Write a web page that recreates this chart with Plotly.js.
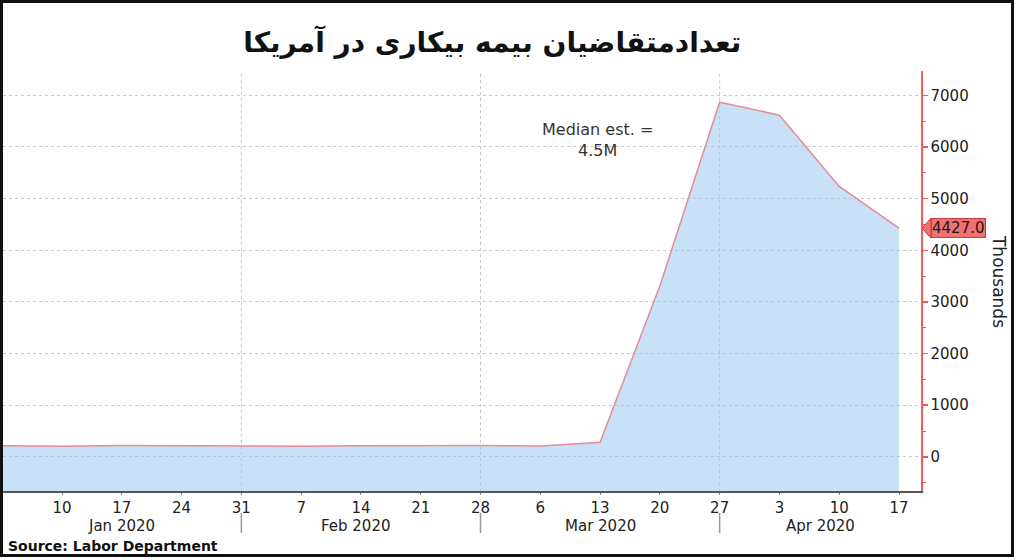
<!DOCTYPE html>
<html>
<head>
<meta charset="utf-8">
<script src="https://cdn.plot.ly/plotly-3.0.1.min.js"></script>
<style>
  html, body { margin: 0; padding: 0; background: #fff; }
  #wrap { position: relative; width: 1017px; height: 560px; }
  #chart { width: 1017px; height: 560px; }
  #frame { position: absolute; left: 0; top: 0; width: 1014px; height: 557px; box-sizing: border-box; border: 3px solid #111; pointer-events: none; }
</style>
</head>
<body>
<div id="wrap"><div id="chart"></div><div id="frame"></div></div>
<script>
// ---- data ----
const weekDates = ['2020-01-03','2020-01-10','2020-01-17','2020-01-24','2020-01-31',
                   '2020-02-07','2020-02-14','2020-02-21','2020-02-28',
                   '2020-03-06','2020-03-13','2020-03-20','2020-03-27',
                   '2020-04-03','2020-04-10','2020-04-17'];
const claims = [214, 207, 222, 216, 203, 205, 214, 219, 219, 211, 282, 3307, 6867, 6615, 5237, 4427];

const xTickVals = ['2020-01-10','2020-01-17','2020-01-24','2020-01-31','2020-02-07','2020-02-14',
                   '2020-02-21','2020-02-28','2020-03-06','2020-03-13','2020-03-20','2020-03-27',
                   '2020-04-03','2020-04-10','2020-04-17'];
const xTickText = ['10','17','24','31','7','14','21','28','6','13','20','27','3','10','17'];

const monthLabels = ['Jan 2020','Feb 2020','Mar 2020','Apr 2020'];
const monthCenters = ['2020-01-16 22:00','2020-02-13 10:00','2020-03-13 00:00','2020-04-07 20:00'];
const monthBoundaries = ['2020-01-31','2020-02-28','2020-03-27'];

const yTickVals = [0, 1000, 2000, 3000, 4000, 5000, 6000, 7000];
const lastValue = 4427.0;
const lastLabel = '4427.0';
const titleText = 'تعدادمتقاضیان بیمه بیکاری در آمریکا';
const medianText = 'Median est. =<br>4.5M';
const sourceText = 'Source: Labor Department';
const unitText = 'Thousands';

// ---- styling ----
const Y_RANGE = [-660, 7470];
const X_RANGE = ['2020-01-03 02:10', '2020-04-19 13:50'];
const FONT = 'DejaVu Sans, Verdana, sans-serif';
const RED = '#ef5c5c';
const TAG = '#f27070';

const baseline = {
  x: weekDates, y: weekDates.map(() => Y_RANGE[0]),
  type: 'scatter', mode: 'lines', line: {width: 0, color: 'rgba(0,0,0,0)'},
  hoverinfo: 'skip', showlegend: false
};
const series = {
  x: weekDates, y: claims,
  type: 'scatter', mode: 'lines', fill: 'tonexty',
  fillcolor: 'rgba(150,198,238,0.52)',
  line: {color: '#e58c98', width: 1.5},
  showlegend: false
};

const shapes = [];
monthBoundaries.forEach(d => {
  shapes.push({type: 'line', xref: 'x', yref: 'paper', x0: d, x1: d, y0: 0, y1: 1,
               layer: 'below', line: {color: '#c8c8c8', width: 1, dash: 'dot'}});
  shapes.push({type: 'line', xref: 'x', yref: 'paper', x0: d, x1: d, y0: -0.052, y1: -0.1,
               line: {color: '#9a9a9a', width: 1.5}});
});
shapes.push({type: 'path', xref: 'paper', xsizemode: 'pixel', xanchor: 1,
             yref: 'y', ysizemode: 'pixel', yanchor: lastValue,
             path: 'M 1 0 L 10 10 L 10 -10 Z', fillcolor: TAG, line: {color: '#c53d3d', width: 1}});

const annotations = [];
monthLabels.forEach((m, i) => {
  annotations.push({text: m, xref: 'x', yref: 'paper', x: monthCenters[i], y: -0.084,
                    xanchor: 'center', yanchor: 'middle', showarrow: false,
                    font: {family: FONT, size: 15, color: '#222'}});
});
annotations.push({text: lastLabel, xref: 'paper', yref: 'y', x: 1, y: lastValue, xshift: 10,
                  xanchor: 'left', yanchor: 'middle', showarrow: false,
                  bgcolor: TAG, bordercolor: '#c53d3d', borderwidth: 1, borderpad: 0,
                  font: {family: FONT, size: 15, color: '#1a1a1a'}});
annotations.push({text: unitText, xref: 'paper', yref: 'paper', x: 1.085, y: 0.5,
                  textangle: 90, xanchor: 'center', yanchor: 'middle', showarrow: false,
                  font: {family: FONT, size: 17, color: '#222'}});
annotations.push({text: medianText, xref: 'x', yref: 'y', x: '2020-03-12 18:00', y: 6136,
                  xanchor: 'center', yanchor: 'middle', showarrow: false,
                  font: {family: FONT, size: 16, color: '#333'}});
annotations.push({text: '<b>' + sourceText + '</b>', xref: 'paper', yref: 'paper', x: 0.003, y: -0.131,
                  xanchor: 'left', yanchor: 'middle', showarrow: false,
                  font: {family: FONT, size: 14, color: '#111'}});

const layout = {
  width: 1017, height: 560,
  margin: {l: 3, r: 96, t: 71, b: 69},
  paper_bgcolor: '#fff', plot_bgcolor: '#fff',
  title: {text: '<b>' + titleText + '</b>', xref: 'container', x: 0.484, xanchor: 'center',
          yref: 'container', y: 0.925, yanchor: 'middle',
          font: {family: FONT, size: 28, color: '#111'}},
  xaxis: {type: 'date', range: X_RANGE, tickmode: 'array', tickvals: xTickVals, ticktext: xTickText,
          showgrid: false, zeroline: false, showline: true, linecolor: '#555', linewidth: 2,
          ticks: 'outside', ticklen: 2, tickcolor: '#888', tickwidth: 1,
          tickfont: {family: FONT, size: 15, color: '#222'}, fixedrange: true},
  yaxis: {side: 'right', range: Y_RANGE, tickmode: 'array', tickvals: yTickVals,
          showgrid: true, gridcolor: '#c8c8c8', griddash: 'dot', gridwidth: 1,
          zeroline: false, showline: true, linecolor: RED, linewidth: 1.5,
          ticks: 'outside', ticklen: 5, tickcolor: RED, tickwidth: 1.5,
          minor: {tickmode: 'linear', tick0: 0, dtick: 500, ticks: 'outside', ticklen: 3,
                  tickcolor: RED, tickwidth: 1, showgrid: false},
          tickfont: {family: FONT, size: 15, color: '#222'}, fixedrange: true},
  shapes: shapes,
  annotations: annotations
};

Plotly.newPlot('chart', [baseline, series], layout, {displayModeBar: false, staticPlot: true});
</script>
</body>
</html>
